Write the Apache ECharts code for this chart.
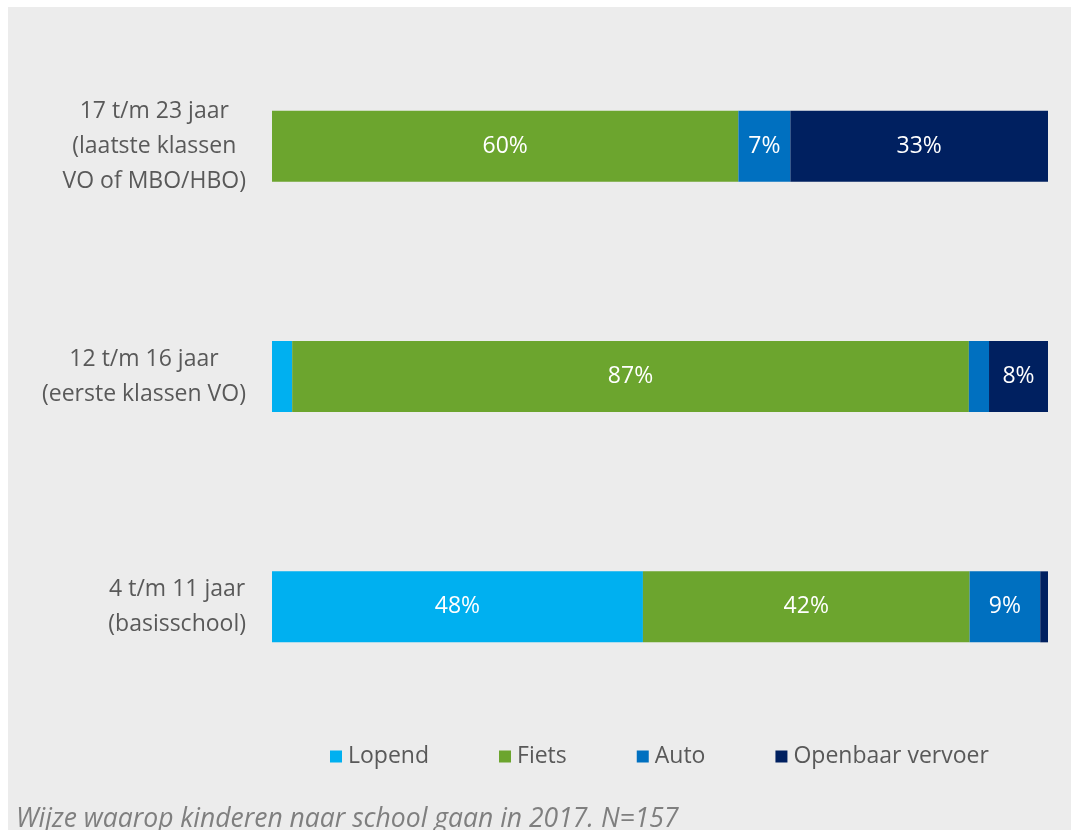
<!DOCTYPE html>
<html>
<head>
<meta charset="utf-8">
<script src="https://cdn.jsdelivr.net/npm/echarts@6/dist/echarts.min.js"></script>
<style>
	html, body { margin: 0; padding: 0; background: #ffffff; }
	#main { position: absolute; left: 8px; top: 7px; width: 1063px; height: 823px; }
</style>
</head>
<body>
<div id="main"></div>
<script>
// categorieën (van onder naar boven)
var categories = [
	"4 t/m 11 jaar\n(basisschool)",
	"12 t/m 16 jaar\n(eerste klassen VO)",
	"17 t/m 23 jaar\n(laatste klassen\nVO of MBO/HBO)"
];
var lopend = [47.8, 2.6, 0];
var fiets = [42.1, 87.2, 60.1];
var auto = [9.1, 2.6, 6.7];
var ov = [1.0, 7.6, 33.2];
var seriesNames = ["Lopend", "Fiets", "Auto", "Openbaar vervoer"];
var caption = "Wijze waarop kinderen naar school gaan in 2017. N=157";

var kleuren = ["#00b0f0", "#6ca52e", "#0070c0", "#002060"];
var font = "'Open Sans', 'Noto Sans', sans-serif";

function maakSerie(naam, data, kleur) {
	return {
		name: naam,
		type: "bar",
		stack: "totaal",
		barWidth: 71,
		data: data,
		itemStyle: { color: kleur },
		label: {
			show: true,
			position: "inside",
			color: "#ffffff",
			fontFamily: font,
			fontSize: 23,
			formatter: function (p) {
				return p.value >= 5 ? Math.round(p.value) + "%" : "";
			}
		}
	};
}

var myChart = echarts.init(document.getElementById("main"));
option = {
	backgroundColor: "#ececec",
	animation: false,
	grid: { left: 264, right: 23, top: 24, height: 691 },
	xAxis: {
		type: "value",
		min: 0,
		max: 100,
		show: false
	},
	yAxis: {
		type: "category",
		data: categories,
		axisLine: { show: false },
		axisTick: { show: false },
		axisLabel: {
			margin: 26,
			align: "right",
			// regels gecentreerd binnen het blok
			formatter: function (v) {
				return v.split("\n").map(function (r) { return "{c|" + r + "}"; }).join("\n");
			},
			rich: {
				c: {
					align: "center",
					color: "#595959",
					fontFamily: font,
					fontSize: 23,
					lineHeight: 35
				}
			}
		}
	},
	legend: {
		data: seriesNames,
		left: 317,
		top: 733,
		itemWidth: 12,
		itemHeight: 12,
		itemGap: 70,
		icon: "rect",
		textStyle: { color: "#595959", fontFamily: font, fontSize: 23, padding: [0, 0, 0, 1] }
	},
	graphic: [
		{
			type: "text",
			left: 8,
			top: 799,
			style: {
				text: caption,
				fill: "#7f7f7f",
				font: "italic 26.5px " + font
			}
		}
	],
	series: [
		maakSerie(seriesNames[0], lopend, kleuren[0]),
		maakSerie(seriesNames[1], fiets, kleuren[1]),
		maakSerie(seriesNames[2], auto, kleuren[2]),
		maakSerie(seriesNames[3], ov, kleuren[3])
	]
};
myChart.setOption(option);
window.addEventListener("resize", myChart.resize);
</script>
</body>
</html>
